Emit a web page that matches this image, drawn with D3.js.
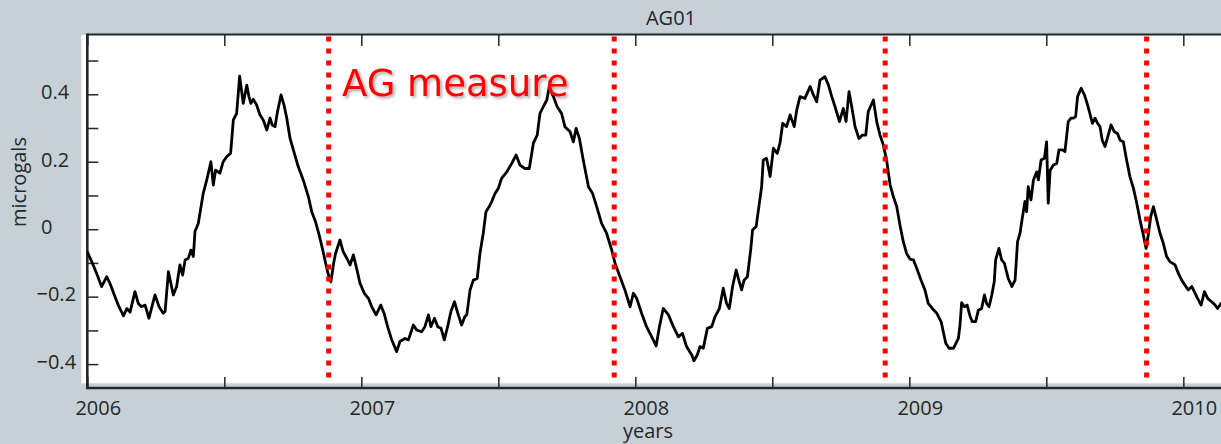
<!DOCTYPE html>
<html>
<head>
<meta charset="utf-8">
<script src="https://cdn.jsdelivr.net/npm/d3@7"></script>
<style>
  html, body { margin: 0; padding: 0; background: #c6d1d7; }
  svg { display: block; }
</style>
</head>
<body>
<svg id="chart" width="1221" height="444"></svg>
<script>
// ---- chart text ----
const title = "AG01";
const xLabel = "years";
const yLabel = "microgals";
const annotation = "AG measure";

// ---- tick values ----
const yearTicks = [2006, 2007, 2008, 2009, 2010];
const halfYearTicks = [2006, 2006.5, 2007, 2007.5, 2008, 2008.5, 2009, 2009.5, 2010];
const valueTicks = [-0.4, -0.2, 0, 0.2, 0.4];
const minorValueTicks = [-0.4, -0.3, -0.2, -0.1, 0, 0.1, 0.2, 0.3, 0.4, 0.5];

// ---- absolute gravity campaign dates (decimal years) ----
const measureDates = [2006.881, 2007.923, 2008.912, 2009.866];

// ---- gravity residual series: time (decimal year) and value (microgals) ----
const time = [
  2006.000, 2006.016, 2006.034, 2006.052, 2006.071, 2006.083, 2006.101, 2006.113, 2006.132, 2006.144,
  2006.156, 2006.174, 2006.186, 2006.198, 2006.211, 2006.225, 2006.247, 2006.262, 2006.277, 2006.284,
  2006.296, 2006.314, 2006.326, 2006.338, 2006.348, 2006.357, 2006.369, 2006.378, 2006.387, 2006.393,
  2006.405, 2006.423, 2006.436, 2006.451, 2006.460, 2006.468, 2006.484, 2006.496, 2006.509, 2006.523,
  2006.533, 2006.545, 2006.556, 2006.569, 2006.582, 2006.590, 2006.597, 2006.606, 2006.618, 2006.630,
  2006.642, 2006.655, 2006.667, 2006.675, 2006.685, 2006.694, 2006.707, 2006.718, 2006.728, 2006.740,
  2006.752, 2006.770, 2006.788, 2006.807, 2006.819, 2006.833, 2006.846, 2006.858, 2006.870, 2006.880,
  2006.889, 2006.899, 2006.906, 2006.922, 2006.934, 2006.947, 2006.959, 2006.971, 2006.983, 2006.995,
  2007.011, 2007.026, 2007.038, 2007.054, 2007.071, 2007.083, 2007.096, 2007.111, 2007.129, 2007.141,
  2007.159, 2007.172, 2007.190, 2007.202, 2007.220, 2007.232, 2007.245, 2007.254, 2007.267, 2007.279,
  2007.291, 2007.303, 2007.315, 2007.327, 2007.340, 2007.352, 2007.366, 2007.378,
  2007.385, 2007.397, 2007.409, 2007.423, 2007.433, 2007.445, 2007.455, 2007.467, 2007.476, 2007.488,
  2007.500, 2007.512, 2007.531, 2007.549, 2007.565, 2007.579, 2007.597, 2007.613, 2007.628, 2007.642,
  2007.652, 2007.664, 2007.677, 2007.686, 2007.701, 2007.715, 2007.731, 2007.743, 2007.762, 2007.774,
  2007.784, 2007.796, 2007.810, 2007.829, 2007.844, 2007.859, 2007.877, 2007.895, 2007.914, 2007.926,
  2007.944, 2007.962, 2007.981, 2007.993, 2008.005, 2008.023, 2008.041, 2008.060, 2008.076, 2008.088,
  2008.102, 2008.121, 2008.139, 2008.157, 2008.172, 2008.187, 2008.206, 2008.214, 2008.226, 2008.236,
  2008.248, 2008.263, 2008.279, 2008.291, 2008.307, 2008.321, 2008.333, 2008.343, 2008.355, 2008.368,
  2008.376, 2008.388, 2008.397, 2008.409, 2008.421, 2008.428, 2008.441, 2008.451, 2008.461, 2008.467,
  2008.479, 2008.492, 2008.504, 2008.518, 2008.528, 2008.538, 2008.552, 2008.565, 2008.580, 2008.589,
  2008.601, 2008.619, 2008.638, 2008.650, 2008.662, 2008.674, 2008.692, 2008.705, 2008.717, 2008.729,
  2008.745, 2008.759, 2008.769, 2008.780,
  2008.792, 2008.802, 2008.816, 2008.829, 2008.841, 2008.850, 2008.869, 2008.881, 2008.893, 2008.905,
  2008.917, 2008.930, 2008.942, 2008.954, 2008.966, 2008.978, 2008.990, 2009.003, 2009.015, 2009.027,
  2009.045, 2009.057, 2009.069, 2009.084, 2009.100, 2009.116, 2009.124, 2009.133, 2009.145, 2009.161,
  2009.179, 2009.185, 2009.191, 2009.201, 2009.211, 2009.222, 2009.230, 2009.242, 2009.252, 2009.264,
  2009.274, 2009.282, 2009.291, 2009.301, 2009.310, 2009.315, 2009.327, 2009.337, 2009.347, 2009.361,
  2009.374, 2009.386, 2009.395, 2009.404, 2009.413, 2009.422, 2009.428, 2009.434, 2009.444, 2009.453,
  2009.465, 2009.471, 2009.481, 2009.493, 2009.501, 2009.507, 2009.514, 2009.526, 2009.538, 2009.546,
  2009.559, 2009.568, 2009.580, 2009.590, 2009.599, 2009.607, 2009.614, 2009.627, 2009.639, 2009.647,
  2009.659, 2009.668, 2009.678, 2009.687, 2009.696, 2009.704, 2009.714, 2009.726, 2009.736, 2009.748,
  2009.760, 2009.769, 2009.781, 2009.793, 2009.805, 2009.818, 2009.830, 2009.842, 2009.854, 2009.864,
  2009.872, 2009.881, 2009.891, 2009.903, 2009.915, 2009.927, 2009.939, 2009.951, 2009.970, 2009.982,
  2009.994, 2010.006, 2010.018, 2010.031, 2010.040, 2010.052, 2010.065, 2010.077, 2010.089, 2010.103,
  2010.116, 2010.125, 2010.138
];
const gravity = [
  -0.067, -0.096, -0.131, -0.170, -0.141, -0.161, -0.200, -0.225, -0.257, -0.235,
  -0.246, -0.185, -0.220, -0.230, -0.225, -0.264, -0.195, -0.230, -0.249, -0.244,
  -0.126, -0.195, -0.170, -0.106, -0.136, -0.091, -0.086, -0.062, -0.081, -0.007,
   0.017,  0.106,  0.146,  0.200,  0.131,  0.175,  0.166,  0.200,  0.215,  0.225,
   0.324,  0.343,  0.454,  0.373,  0.427,  0.393,  0.373,  0.385,  0.368,  0.339,
   0.324,  0.294,  0.329,  0.309,  0.304,  0.348,  0.398,  0.368,  0.329,  0.269,
   0.235,  0.185,  0.146,  0.096,  0.052,  0.022, -0.017, -0.057, -0.101, -0.136,
  -0.156, -0.101, -0.072, -0.032, -0.067, -0.086, -0.106, -0.076, -0.116, -0.160,
  -0.190, -0.205, -0.230, -0.254, -0.225, -0.249, -0.289, -0.328, -0.363, -0.333,
  -0.324, -0.328, -0.284, -0.299, -0.304, -0.289, -0.254, -0.289, -0.264, -0.289,
  -0.294, -0.328, -0.289, -0.244, -0.215, -0.249, -0.284, -0.259,
  -0.254, -0.180, -0.151, -0.146, -0.072, -0.012,  0.052,  0.067,  0.082,  0.106,
   0.121,  0.151,  0.170,  0.195,  0.220,  0.190,  0.180,  0.180,  0.255,  0.279,
   0.343,  0.363,  0.383,  0.423,  0.393,  0.363,  0.343,  0.304,  0.289,  0.259,
   0.299,  0.269,  0.205,  0.126,  0.106,  0.067,  0.017, -0.012, -0.062, -0.101,
  -0.141, -0.180, -0.230, -0.190, -0.205, -0.249, -0.289, -0.319, -0.346, -0.289,
  -0.235, -0.254, -0.289, -0.319, -0.309, -0.348, -0.373, -0.390, -0.373, -0.348,
  -0.353, -0.294, -0.289, -0.259, -0.235, -0.175, -0.220, -0.235, -0.170, -0.121,
  -0.146, -0.180, -0.151, -0.141, -0.062, -0.002,  0.008,  0.067,  0.126,  0.205,
   0.210,  0.156,  0.240,  0.225,  0.255,  0.314,  0.304,  0.339,  0.304,  0.353,
   0.393,  0.388,  0.423,  0.398,  0.378,  0.442,  0.452,  0.427,  0.393,  0.363,
   0.319,  0.358,  0.319,  0.408,
   0.353,  0.304,  0.269,  0.279,  0.279,  0.348,  0.383,  0.319,  0.279,  0.250,
   0.205,  0.131,  0.096,  0.067,  0.012, -0.037, -0.072, -0.089, -0.091, -0.116,
  -0.156, -0.180, -0.220, -0.235, -0.249, -0.274, -0.304, -0.338, -0.353, -0.353,
  -0.324, -0.284, -0.218, -0.230, -0.225, -0.259, -0.274, -0.274, -0.240, -0.235,
  -0.195, -0.220, -0.230, -0.195, -0.156, -0.091, -0.057, -0.091, -0.101, -0.146,
  -0.170, -0.151, -0.037, -0.012,  0.037,  0.082,  0.052,  0.126,  0.087,  0.146,
   0.170,  0.146,  0.205,  0.210,  0.259,  0.077,  0.175,  0.190,  0.195,  0.235,
   0.235,  0.230,  0.319,  0.329,  0.329,  0.334,  0.393,  0.418,  0.398,  0.378,
   0.343,  0.314,  0.329,  0.314,  0.304,  0.264,  0.245,  0.279,  0.309,  0.289,
   0.284,  0.264,  0.259,  0.205,  0.156,  0.121,  0.077,  0.027, -0.017, -0.057,
  -0.017,  0.037,  0.067,  0.027, -0.012, -0.042, -0.081, -0.096, -0.106, -0.131,
  -0.151, -0.166, -0.180, -0.170, -0.185, -0.205, -0.225, -0.185, -0.205, -0.215,
  -0.225, -0.235, -0.220
];

// ---- layout ----
const width = 1221, height = 444;
const frame = { left: 87.3, right: 1221, top: 35, bottom: 388 };
const labelFont = "'Open Sans', 'Noto Sans', sans-serif";
const ink = "#262626";

const x = d3.scaleLinear().domain([2006, 2010.1375]).range([frame.left, frame.right]);
const y = d3.scaleLinear().domain([-0.4708, 0.5757]).range([frame.bottom, frame.top]);

const svg = d3.select("#chart");
const defs = svg.append("defs");

defs.append("clipPath").attr("id", "plot-clip")
  .append("rect")
  .attr("x", frame.left).attr("y", frame.top)
  .attr("width", frame.right - frame.left).attr("height", frame.bottom - frame.top);

const shadow = defs.append("filter").attr("id", "text-shadow")
  .attr("x", "-10%").attr("y", "-20%").attr("width", "130%").attr("height", "160%");
shadow.append("feDropShadow")
  .attr("dx", 2).attr("dy", 2).attr("stdDeviation", 1.4)
  .attr("flood-color", "#000").attr("flood-opacity", 0.35);

// white plotting surface
svg.append("rect")
  .attr("x", frame.left - 6).attr("y", frame.top)
  .attr("width", frame.right - frame.left + 6).attr("height", frame.bottom - frame.top - 4.7)
  .attr("fill", "#fff");

// inward-pointing ticks
const tickLen = 11;
svg.append("g").attr("transform", `translate(0,${frame.top})`)
  .call(d3.axisTop(x).tickValues(halfYearTicks).tickSizeInner(-tickLen).tickSizeOuter(0).tickFormat(""))
  .call(g => g.select(".domain").remove())
  .call(g => g.selectAll("line").attr("stroke", ink).attr("stroke-width", 1.5));

svg.append("g").attr("transform", `translate(0,${frame.bottom})`)
  .call(d3.axisBottom(x).tickValues(halfYearTicks).tickSizeInner(-tickLen).tickSizeOuter(0).tickFormat(""))
  .call(g => g.select(".domain").remove())
  .call(g => g.selectAll("line").attr("stroke", ink).attr("stroke-width", 1.5));

svg.append("g").attr("transform", `translate(${frame.left},0)`)
  .call(d3.axisLeft(y).tickValues(minorValueTicks).tickSizeInner(-tickLen).tickSizeOuter(0).tickFormat(""))
  .call(g => g.select(".domain").remove())
  .call(g => g.selectAll("line").attr("stroke", ink).attr("stroke-width", 1.5));

// frame lines
svg.append("line").attr("x1", frame.left).attr("x2", frame.right)
  .attr("y1", frame.top - 0.5).attr("y2", frame.top - 0.5)
  .attr("stroke", ink).attr("stroke-width", 2);
svg.append("line").attr("x1", frame.left).attr("x2", frame.right)
  .attr("y1", frame.bottom).attr("y2", frame.bottom)
  .attr("stroke", ink).attr("stroke-width", 2.6);
svg.append("line").attr("x1", frame.left).attr("x2", frame.left)
  .attr("y1", frame.top - 1.5).attr("y2", frame.bottom + 1.3)
  .attr("stroke", ink).attr("stroke-width", 2.6);

// tick labels: non-negative values start at a common edge, negatives hang their minus sign to the left
const fmt = v => v === 0 ? "0" : d3.format(".1f")(v);
svg.append("g").selectAll("text").data(valueTicks).join("text")
  .attr("x", d => d < 0 ? 36.5 : 41)
  .attr("y", d => y(d) + 4.8)
  .attr("text-anchor", "start")
  .attr("font-family", labelFont).attr("font-size", 20).attr("fill", ink)
  .text(fmt);

svg.append("g").selectAll("text").data(yearTicks).join("text")
  .attr("x", d => x(d) + 11).attr("y", 415)
  .attr("text-anchor", "middle")
  .attr("font-family", labelFont).attr("font-size", 20).attr("fill", ink)
  .text(d => d);

// titles
svg.append("text").attr("x", 671).attr("y", 25).attr("text-anchor", "middle")
  .attr("font-family", labelFont).attr("font-size", 20).attr("fill", ink).text(title);
svg.append("text").attr("x", 648).attr("y", 438).attr("text-anchor", "middle")
  .attr("font-family", labelFont).attr("font-size", 20).attr("fill", ink).text(xLabel);
svg.append("text").attr("transform", "translate(26,182) rotate(-90)").attr("text-anchor", "middle")
  .attr("font-family", labelFont).attr("font-size", 20).attr("fill", ink).text(yLabel);

// gravity series
const series = time.map((t, i) => ({ t, v: gravity[i] }));
svg.append("path")
  .datum(series)
  .attr("clip-path", "url(#plot-clip)")
  .attr("fill", "none").attr("stroke", "#000").attr("stroke-width", 2.8)
  .attr("stroke-linejoin", "round").attr("stroke-linecap", "round")
  .attr("d", d3.line().x(d => x(d.t)).y(d => y(d.v)));

// absolute gravity measurement dates
svg.append("g").selectAll("line").data(measureDates).join("line")
  .attr("x1", d => x(d)).attr("x2", d => x(d))
  .attr("y1", 36.6).attr("y2", 381)
  .attr("stroke", "#ff0000").attr("stroke-width", 5)
  .attr("stroke-dasharray", "5 7");

// annotation
svg.append("text")
  .attr("x", 342).attr("y", 96)
  .attr("font-family", "'DejaVu Sans', sans-serif").attr("font-size", 37)
  .attr("fill", "#ff0000").attr("filter", "url(#text-shadow)")
  .text(annotation);
</script>
</body>
</html>
